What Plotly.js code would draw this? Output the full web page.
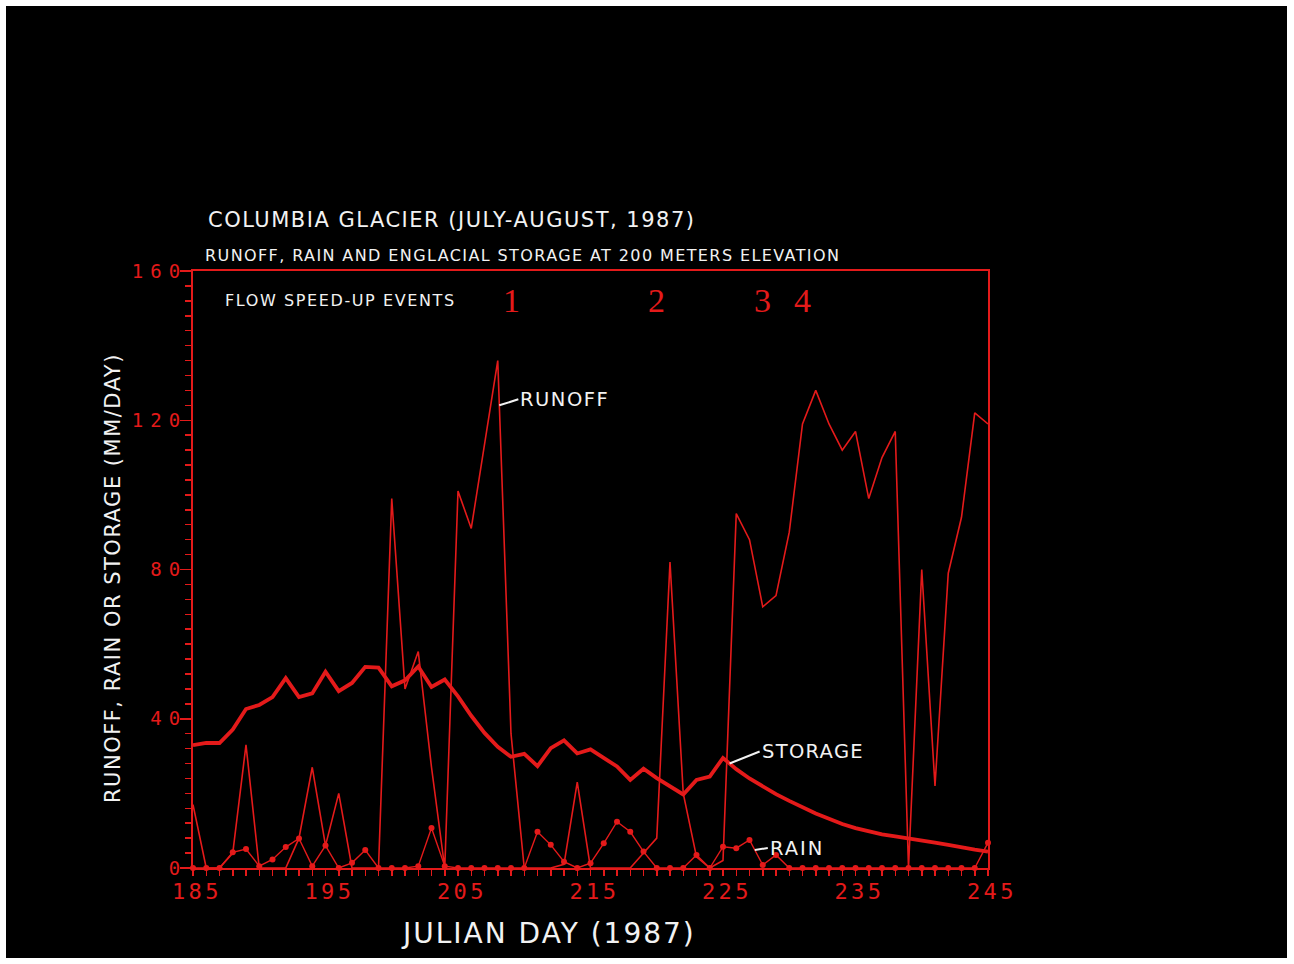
<!DOCTYPE html>
<html>
<head>
<meta charset="utf-8">
<script src="https://cdn.plot.ly/plotly-3.0.1.min.js"></script>
<style>
  html, body { margin: 0; padding: 0; background: #ffffff; }
  #chart { position: absolute; left: 6px; top: 6px; width: 1281px; height: 952px; }
  #chart .annotation[data-index="0"] .annotation-text { letter-spacing: 1.5px; }
  #chart .annotation[data-index="1"] .annotation-text { letter-spacing: 1.4px; }
  #chart .annotation[data-index="2"] .annotation-text { letter-spacing: 1.6px; }
  #chart .annotation[data-index="3"] .annotation-text { letter-spacing: 2px; }
  #chart .annotation[data-index="4"] .annotation-text { letter-spacing: 1.5px; }
  #chart .annotation[data-index="5"] .annotation-text { letter-spacing: 1.5px; }
  #chart .annotation[data-index="6"] .annotation-text { letter-spacing: 1.3px; }
  #chart .annotation[data-index="7"] .annotation-text { letter-spacing: 2px; }
  #chart .xtick text { letter-spacing: 3.5px; }
  #chart .ytick text { letter-spacing: 7px; }
</style>
</head>
<body>
<div id="chart"></div>
<script>
// Julian days, July-August 1987
const days = [185,186,187,188,189,190,191,192,193,194,195,196,197,198,199,200,
  201,202,203,204,205,206,207,208,209,210,211,212,213,214,215,216,217,218,219,220,
  221,222,223,224,225,226,227,228,229,230,231,232,233,234,235,236,237,238,239,240,
  241,242,243,244,245];

// Daily runoff (mm/day)
const runoff = [17,0,0,4,33,0,0,0,8,27,6,20,0,0,0,99,
  48,58,27,0,101,91,114,136,36,0,0,0,1,23,0,0,0,0,4,8,
  82,20,3,0,2,95,88,70,73,90,119,128,119,112,117,99,110,117,0,80,
  22,79,94,122,119];

// Daily rain (mm/day)
const rain = [0,0,0,4.2,5.1,0.5,2.3,5.6,7.9,0.5,6,0,1.4,4.8,0,0,
  0,0.5,10.7,0.5,0,0,0,0,0,0,9.7,6.2,1.7,0,1.3,6.6,12.4,9.7,4.4,0,
  0,0,3.5,0,5.7,5.3,7.5,0.8,3.5,0,0,0,0,0,0,0,0,0,0,0,
  0,0,0,0,6.8];

// Englacial storage (mm/day)
const storage = [32.9,33.5,33.5,37.1,42.6,43.7,45.8,50.9,45.8,46.8,52.6,47.4,49.6,53.9,53.7,48.7,
  50.3,54,48.5,50.5,46,40.8,36.2,32.5,29.8,30.6,27.3,32.1,34.2,30.7,31.8,29.5,27.2,23.6,26.6,24.1,
  21.8,19.7,23.6,24.5,29.5,26.5,24,21.8,19.8,18,16.2,14.6,13.2,11.8,10.7,9.8,9,8.5,8,7.5,
  6.8,6.2,5.5,4.9,4.4];

// Flow speed-up events
const eventDays = [209, 220, 228, 231];
const eventLabels = ['1', '2', '3', '4'];

const xTickVals = [185, 195, 205, 215, 225, 235, 245];
const yTickVals = [0, 40, 80, 120, 160];

const RED = '#e41a1a';
const WHITE = '#f2f2f2';
const SANS = 'DejaVu Sans, Arial, sans-serif';
const MONO = 'DejaVu Sans Mono, monospace';

const traces = [
  {
    x: days, y: runoff, name: 'RUNOFF', type: 'scatter', mode: 'lines',
    line: { color: RED, width: 1.6 }, cliponaxis: false
  },
  {
    x: days, y: rain, name: 'RAIN', type: 'scatter', mode: 'lines+markers',
    line: { color: RED, width: 1.4 }, marker: { color: RED, size: 6 }, cliponaxis: false
  },
  {
    x: days, y: storage, name: 'STORAGE', type: 'scatter', mode: 'lines',
    line: { color: RED, width: 3.8 }, cliponaxis: false
  }
];

// helper: index of a day in the series
const di = d => days.indexOf(d);

const annotations = [
  { text: 'COLUMBIA GLACIER (JULY-AUGUST, 1987)', xref: 'paper', yref: 'paper',
    x: 0.0165, y: 1.0854, xanchor: 'left', yanchor: 'middle', align: 'left', showarrow: false,
    font: { family: SANS, size: 21, color: WHITE } },
  { text: 'RUNOFF, RAIN AND ENGLACIAL STORAGE AT 200 METERS ELEVATION', xref: 'paper', yref: 'paper',
    x: 0.0125, y: 1.0268, xanchor: 'left', yanchor: 'middle', align: 'left', showarrow: false,
    font: { family: SANS, size: 16, color: WHITE } },
  { text: 'FLOW SPEED-UP EVENTS', xref: 'paper', yref: 'paper',
    x: 0.038, y: 0.95, xanchor: 'left', yanchor: 'middle', align: 'left', showarrow: false,
    font: { family: SANS, size: 16, color: WHITE } },
  { text: 'JULIAN DAY (1987)', xref: 'paper', yref: 'paper',
    x: 0.447, y: -0.109, xanchor: 'center', yanchor: 'middle', showarrow: false,
    font: { family: SANS, size: 28, color: WHITE } },
  { text: 'RUNOFF, RAIN OR STORAGE (MM/DAY)', xref: 'paper', yref: 'paper',
    x: -0.1006, y: 0.4858, xanchor: 'center', yanchor: 'middle', textangle: -90, showarrow: false,
    font: { family: SANS, size: 21, color: WHITE } },
  // curve labels with leader lines
  { text: 'RUNOFF', xref: 'x', yref: 'y',
    x: days[di(208)] + 0.12, y: runoff[di(208)] + 0.12 * (runoff[di(209)] - runoff[di(208)]),
    ax: 19, ay: -6, xanchor: 'left', yanchor: 'middle', align: 'left',
    showarrow: true, arrowhead: 0, arrowwidth: 2, arrowcolor: WHITE, standoff: 0,
    font: { family: SANS, size: 19.5, color: WHITE } },
  { text: 'STORAGE', xref: 'x', yref: 'y',
    x: days[di(225)] + 0.5, y: (storage[di(225)] + storage[di(226)]) / 2,
    ax: 30, ay: -12, xanchor: 'left', yanchor: 'middle', align: 'left',
    showarrow: true, arrowhead: 0, arrowwidth: 2, arrowcolor: WHITE, standoff: 0,
    font: { family: SANS, size: 19.5, color: WHITE } },
  { text: 'RAIN', xref: 'x', yref: 'y',
    x: days[di(227)] + 0.4, y: rain[di(227)] + 0.4 * (rain[di(228)] - rain[di(227)]),
    ax: 13, ay: -2, xanchor: 'left', yanchor: 'middle', align: 'left',
    showarrow: true, arrowhead: 0, arrowwidth: 2, arrowcolor: WHITE, standoff: 0,
    font: { family: SANS, size: 19.5, color: WHITE } }
];

eventDays.forEach((d, i) => {
  annotations.push({
    text: eventLabels[i], xref: 'x', yref: 'paper', x: d, y: 0.95,
    xanchor: 'center', yanchor: 'middle', showarrow: false,
    font: { family: 'Liberation Serif, DejaVu Serif, serif', size: 34, color: RED }
  });
});

const layout = {
  width: 1281, height: 952,
  paper_bgcolor: '#000000', plot_bgcolor: '#000000',
  showlegend: false,
  margin: { l: 187, r: 299, t: 265, b: 90, pad: 0 },
  xaxis: {
    range: [185, 245], showgrid: false, zeroline: false,
    showline: true, linecolor: RED, linewidth: 2, mirror: true,
    tickmode: 'array', tickvals: xTickVals, ticktext: xTickVals.map(String),
    ticks: 'outside', ticklen: 6, tickwidth: 1.5, tickcolor: RED,
    ticklabelstandoff: -3, ticklabelshift: 4,
    minor: { tick0: 185, dtick: 1, ticks: 'outside', ticklen: 6, tickwidth: 1.5, tickcolor: RED, showgrid: false },
    tickfont: { family: MONO, size: 22, color: RED }
  },
  yaxis: {
    range: [0, 160], showgrid: false, zeroline: false,
    showline: true, linecolor: RED, linewidth: 2, mirror: true,
    tickmode: 'array', tickvals: yTickVals, ticktext: yTickVals.map(String),
    ticks: 'outside', ticklen: 11, tickwidth: 1.5, tickcolor: RED,
    ticklabelstandoff: -11,
    minor: { tick0: 0, dtick: 4, ticks: 'outside', ticklen: 6, tickwidth: 1.5, tickcolor: RED, showgrid: false },
    tickfont: { family: MONO, size: 19, color: RED }
  },
  annotations: annotations
};

Plotly.newPlot('chart', traces, layout, { displayModeBar: false, staticPlot: true });
</script>
</body>
</html>
